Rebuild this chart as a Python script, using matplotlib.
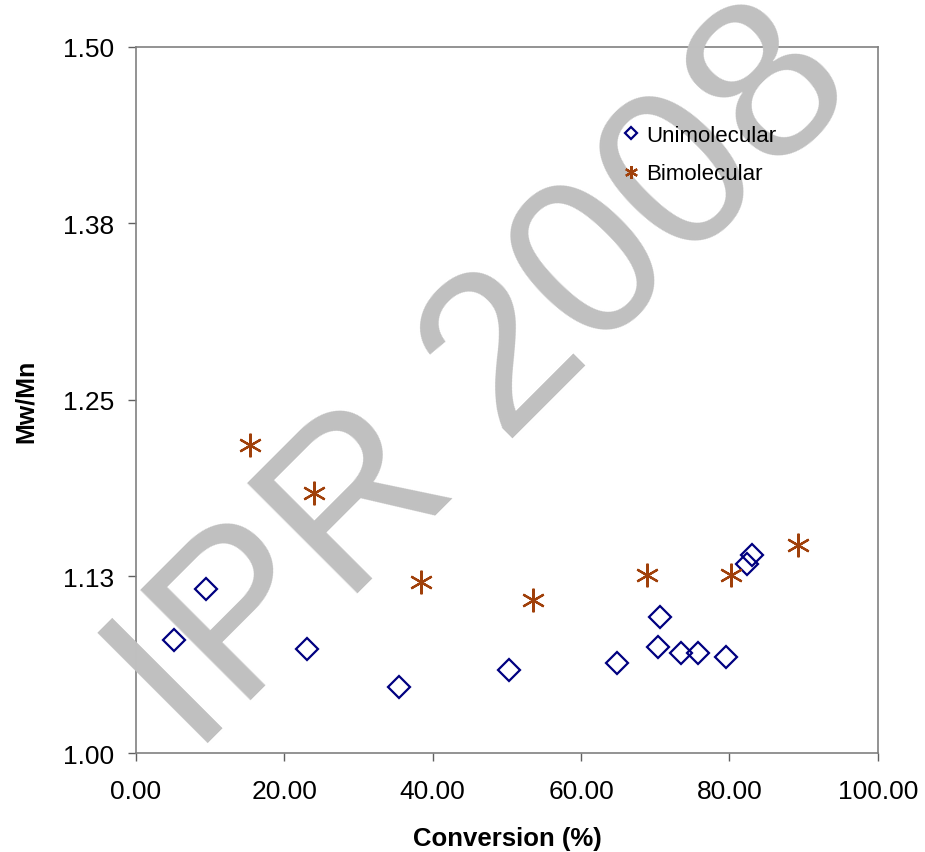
import matplotlib.pyplot as plt

plt.rcParams['font.family'] = ['Liberation Sans', 'DejaVu Sans']

# Unimolecular series
uni_x = [5.1, 9.4, 23.0, 35.4, 50.3, 64.8, 70.6, 70.4, 73.5, 75.7, 79.5, 82.4, 83.0]
uni_y = [1.080, 1.116, 1.074, 1.047, 1.059, 1.064, 1.096, 1.075, 1.071, 1.071, 1.068, 1.134, 1.140]

# Bimolecular series
bi_x = [15.4, 24.0, 38.4, 53.5, 68.9, 80.2, 89.2]
bi_y = [1.218, 1.184, 1.121, 1.108, 1.126, 1.126, 1.147]

yticks = [1.00, 1.125, 1.25, 1.375, 1.50]
ylabels = ['1.00', '1.13', '1.25', '1.38', '1.50']
xticks = [0, 20, 40, 60, 80, 100]

fig = plt.figure(figsize=(9.25, 8.53), dpi=100)
ax = fig.add_axes([0.147, 0.116, 0.802, 0.828])

ax.plot(uni_x, uni_y, linestyle='none', marker='D', markersize=11,
        markerfacecolor='none', markeredgecolor='#000080', markeredgewidth=1.6,
        label='Unimolecular', zorder=3)
ax.plot(bi_x, bi_y, linestyle='none', marker=(6, 2, 0), markersize=17,
        markeredgecolor='#A0400A', markeredgewidth=1.6,
        label='Bimolecular', zorder=3)

# watermark
ax.text(0.472, 0.527, 'IPR 2008', transform=ax.transAxes, fontsize=163,
        color='#c0c0c0', rotation=45, ha='center', va='center', zorder=2.7)

ax.set_xlim(0, 100)
ax.set_ylim(1.0, 1.5)
ax.set_xticks(xticks)
ax.set_xticklabels(['%.2f' % v for v in xticks])
ax.set_yticks(yticks)
ax.set_yticklabels(ylabels)
ax.tick_params(direction='out', length=6, labelsize=19, width=1, color='#606060')
ax.tick_params(axis='x', pad=13)
ax.tick_params(axis='y', pad=10)
for s in ax.spines.values():
    s.set_color('#808080')
    s.set_linewidth(1.2)

ax.set_xlabel('Conversion (%)', fontsize=18.5, fontweight='bold', labelpad=16)
ax.set_ylabel('Mw/Mn', fontsize=18, fontweight='bold', labelpad=18)

leg = ax.legend(loc='upper left', bbox_to_anchor=(0.64, 0.905), frameon=False,
                fontsize=16, handletextpad=0.3, markerscale=0.55, borderpad=0,
                labelspacing=0.78, handlelength=0.8)

fig.savefig('out.png', dpi=100)
